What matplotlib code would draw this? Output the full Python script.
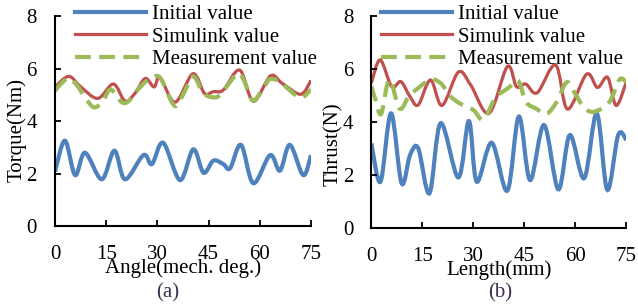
import matplotlib
matplotlib.use('Agg')
import matplotlib.pyplot as plt
from matplotlib.path import Path
from matplotlib.patches import PathPatch
from matplotlib.lines import Line2D

plt.rcParams['font.family'] = ['Liberation Serif', 'DejaVu Serif']
plt.rcParams['font.size'] = 15

######################
# data
######################
# (a) torque vs angle
A_BLUE_X = [0, 2.9, 5.9, 8.8, 13.7, 17.4, 20.5, 25.9, 28.4, 31.7, 36.6, 40.5,
            43.5, 46.4, 49.3, 51.3, 54.5, 58.1, 63.0, 65.9, 68.8, 72.7, 75]
A_BLUE_Y = [2.07, 3.25, 1.94, 2.79, 1.78, 2.87, 1.78, 2.70, 2.36, 3.17, 1.75, 2.92,
            2.03, 2.49, 2.36, 2.20, 3.09, 1.63, 2.70, 2.11, 3.09, 1.94, 2.70]

A_RED_X = [0, 4.0, 7.3, 12.5, 17.1, 20.5, 23.4, 26.4, 29.0, 30.8, 35.2, 40.4,
           43.8, 46.4, 49.3, 54.1, 58.1, 63.1, 66.6, 72.0, 75]
A_RED_Y = [5.30, 5.70, 5.33, 4.86, 5.41, 4.76, 5.05, 5.62, 5.30, 5.65, 4.72, 5.80,
           5.05, 5.12, 5.18, 5.94, 4.75, 5.72, 5.43, 5.02, 5.55]

A_GREEN_X = [0, 2, 4, 6.5, 9, 11.5, 14, 16.3, 19.5, 21.5, 24, 27, 29.8, 31.5, 35,
             37.5, 40.5, 43.5, 47, 49, 53.5, 55.5, 58, 61.5, 63, 66, 68.5, 72, 75]
A_GREEN_Y = [5.15, 5.45, 5.62, 5.35, 4.85, 4.52, 4.75, 5.20, 4.72, 4.75, 5.15, 5.55,
             5.72, 5.50, 4.58, 5.00, 5.70, 5.05, 4.90, 5.10, 5.80, 5.50, 4.78, 5.35,
             5.60, 5.50, 5.20, 4.88, 5.20]

# (b) thrust vs length
B_BLUE_X = [0, 2.7, 5.8, 8.9, 11.4, 13.8, 17.1, 20.4, 25.6, 28.7, 31.0, 35.4,
            40.0, 43.4, 46.7, 50.8, 55.0, 58.4, 62.6, 66.3, 69.4, 72.6, 75]
B_BLUE_Y = [3.19, 1.74, 4.32, 1.68, 2.75, 3.00, 1.30, 3.95, 1.90, 4.03, 1.74, 3.21,
            1.40, 4.20, 1.80, 3.88, 1.45, 3.50, 1.87, 4.32, 1.43, 3.50, 3.32]

B_RED_X = [0, 2.6, 6.0, 8.7, 11.4, 13.8, 17.4, 20.8, 25.6, 29.2, 34.6, 40.0,
           42.7, 45.4, 48.8, 54.2, 57.7, 63.3, 66.5, 69.5, 72.0, 75]
B_RED_Y = [5.46, 6.34, 5.33, 5.52, 4.95, 4.64, 5.58, 4.62, 5.88, 5.40, 4.32, 6.09,
           5.33, 5.43, 5.10, 6.15, 4.48, 5.80, 5.30, 5.68, 4.62, 5.50]

B_GREEN_X = [0, 1.2, 2.9, 5.3, 8.3, 11.0, 14.0, 17.5, 20.5, 23.0, 26.0, 30.0, 33.0,
             36.5, 40.5, 43.2, 45.5, 48.5, 51.5, 54.5, 57.5, 60.0, 62.5, 65.5, 70.0,
             73.0, 75]
B_GREEN_Y = [5.35, 4.85, 4.30, 5.60, 4.50, 4.95, 5.30, 5.60, 5.45, 5.00, 4.70, 4.45,
             4.08, 4.90, 5.30, 5.55, 4.75, 4.50, 4.30, 4.75, 5.50, 5.05, 4.55, 4.38,
             4.75, 5.60, 5.50]

LABELS = ["Initial value", "Simulink value", "Measurement value"]
XTICKS = [0, 15, 30, 45, 60, 75]
YTICKS = [0, 2, 4, 6, 8]

BLUE = '#4F81BD'
RED = '#C0504D'
GREEN = '#9BBB59'


def smooth_path(x, y):
    # smoothed line through the points, like the spreadsheet's "smoothed line"
    verts = [(x[0], y[0])]
    codes = [Path.MOVETO]
    n = len(x)
    for i in range(n - 1):
        xa, ya = (x[i - 1], y[i - 1]) if i > 0 else (x[i], y[i])
        xb, yb = (x[i + 2], y[i + 2]) if i + 2 < n else (x[i + 1], y[i + 1])
        c1 = (x[i] + (x[i + 1] - xa) / 6, y[i] + (y[i + 1] - ya) / 6)
        c2 = (x[i + 1] - (xb - x[i]) / 6, y[i + 1] - (yb - y[i]) / 6)
        verts += [c1, c2, (x[i + 1], y[i + 1])]
        codes += [Path.CURVE4] * 3
    return Path(verts, codes)


DASH = (0, (3.8, 2.0))


def draw_panel(ax, series, xlabel, ylabel, ylab_y, leg_x, tag, tag_x):
    styles = [dict(color=BLUE, lw=3.0, ls='-'),
              dict(color=RED, lw=2.3, ls='-'),
              dict(color=GREEN, lw=3.0, ls=DASH)]
    for (x, y), st in zip(series, styles):
        ax.add_patch(PathPatch(smooth_path(x, y), fill=False, edgecolor=st['color'],
                               lw=st['lw'], linestyle=st['ls'], capstyle='butt'))
    ax.set_xlim(0, 75)
    ax.set_ylim(0, 8)
    ax.set_xticks(XTICKS)
    ax.set_yticks(YTICKS)
    for s in ['top', 'right']:
        ax.spines[s].set_visible(False)
    for s in ['left', 'bottom']:
        ax.spines[s].set_linewidth(1.5)
    ax.tick_params(direction='in', length=4.5, width=1.3)
    ax.tick_params(axis='x', pad=14)
    ax.tick_params(axis='y', pad=13)
    ax.set_xlabel(xlabel)
    ax.xaxis.set_label_coords(0.5, -0.152)
    ax.set_ylabel(ylabel)
    ax.yaxis.set_label_coords(-0.11, ylab_y)

    handles = [Line2D([], [], **st) for st in styles]
    ax.legend(handles, LABELS, loc='upper left', bbox_to_anchor=(leg_x, 1.055),
              frameon=False, borderpad=0, borderaxespad=0, handlelength=3.4,
              handletextpad=0.3, labelspacing=0.15)
    fig.text(tag_x, 0.042, tag, ha='center', va='center', color='#403050')


fig = plt.figure(figsize=(6.38, 3.06), dpi=100)

ax1 = fig.add_axes([0.0862, 0.2614, 0.4013, 0.6863])
draw_panel(ax1, [(A_BLUE_X, A_BLUE_Y), (A_RED_X, A_RED_Y), (A_GREEN_X, A_GREEN_Y)],
           "Angle(mech. deg.)", "Torque(Nm)", 0.457, 0.078, "(a)", 168 / 638)

ax2 = fig.add_axes([0.582, 0.2559, 0.3997, 0.6918])
draw_panel(ax2, [(B_BLUE_X, B_BLUE_Y), (B_RED_X, B_RED_Y), (B_GREEN_X, B_GREEN_Y)],
           "Length(mm)", "Thrust(N)", 0.395, 0.039, "(b)", 500 / 638)

fig.savefig('out.png', dpi=100)
